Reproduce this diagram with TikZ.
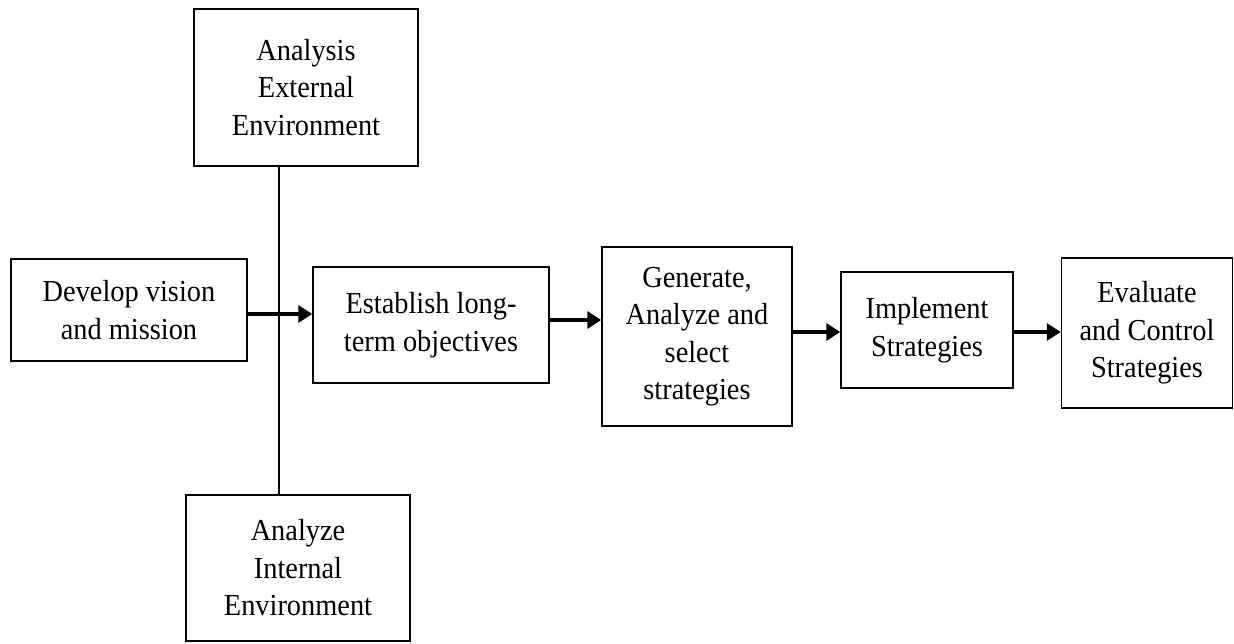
\documentclass[tikz,border=0pt]{standalone}
\usepackage{fontspec}
\setmainfont{Liberation Serif}[FakeStretch=0.93]
\usetikzlibrary{arrows.meta}

\tikzset{
  stagebox/.style={draw, line width=1.5pt, inner sep=0pt, align=center,
    font=\fontsize{30.5}{37.5}\selectfont},
  flowarrow/.style={line width=3.6pt, -{Triangle[length=14pt,width=17pt]}},
  trunkline/.style={line width=1.5pt}
}

\begin{document}
\begin{tikzpicture}[x=1pt, y=-1pt]
  \useasboundingbox (0,0) rectangle (1234,643);

  % environment analyses above and below the trunk
  \node[stagebox, minimum width=224pt, minimum height=157pt] (ext) at (306,87.5)
    {Analysis\\External\\Environment};
  \node[stagebox, minimum width=224pt, minimum height=146pt] (int) at (298,568)
    {Analyze\\Internal\\Environment};

  % main sequence of stages
  \node[stagebox, minimum width=236pt, minimum height=102pt] (dev) at (129,310)
    {Develop vision\\and mission};
  \node[stagebox, minimum width=236pt, minimum height=116pt] (est) at (431,325)
    {Establish long-\\term objectives};
  \node[stagebox, minimum width=190pt, minimum height=179pt] (gen) at (697,336.5)
    {Generate,\\Analyze and\\select\\strategies};
  \node[stagebox, minimum width=172pt, minimum height=116pt] (imp) at (927,330)
    {Implement\\Strategies};
  \node[stagebox, minimum width=171pt, minimum height=150pt] (eva) at (1147,333)
    {Evaluate\\and Control\\Strategies};

  % vertical trunk joining the two environment boxes
  \coordinate (trunk) at (279,0);
  \draw[trunkline] (ext.south -| trunk) -- (int.north -| trunk);

  % flow arrows
  \draw[flowarrow] ([yshift=-4pt]dev.east) -- ([yshift=-4pt]dev.east -| est.west);
  \draw[flowarrow] ([yshift=5pt]est.east) -- ([yshift=5pt]est.east -| gen.west);
  \draw[flowarrow] ([yshift=-2pt]imp.west -| gen.east) -- ([yshift=-2pt]imp.west);
  \draw[flowarrow] ([yshift=-2pt]imp.east) -- ([yshift=-2pt]imp.east -| eva.west);
\end{tikzpicture}
\end{document}
